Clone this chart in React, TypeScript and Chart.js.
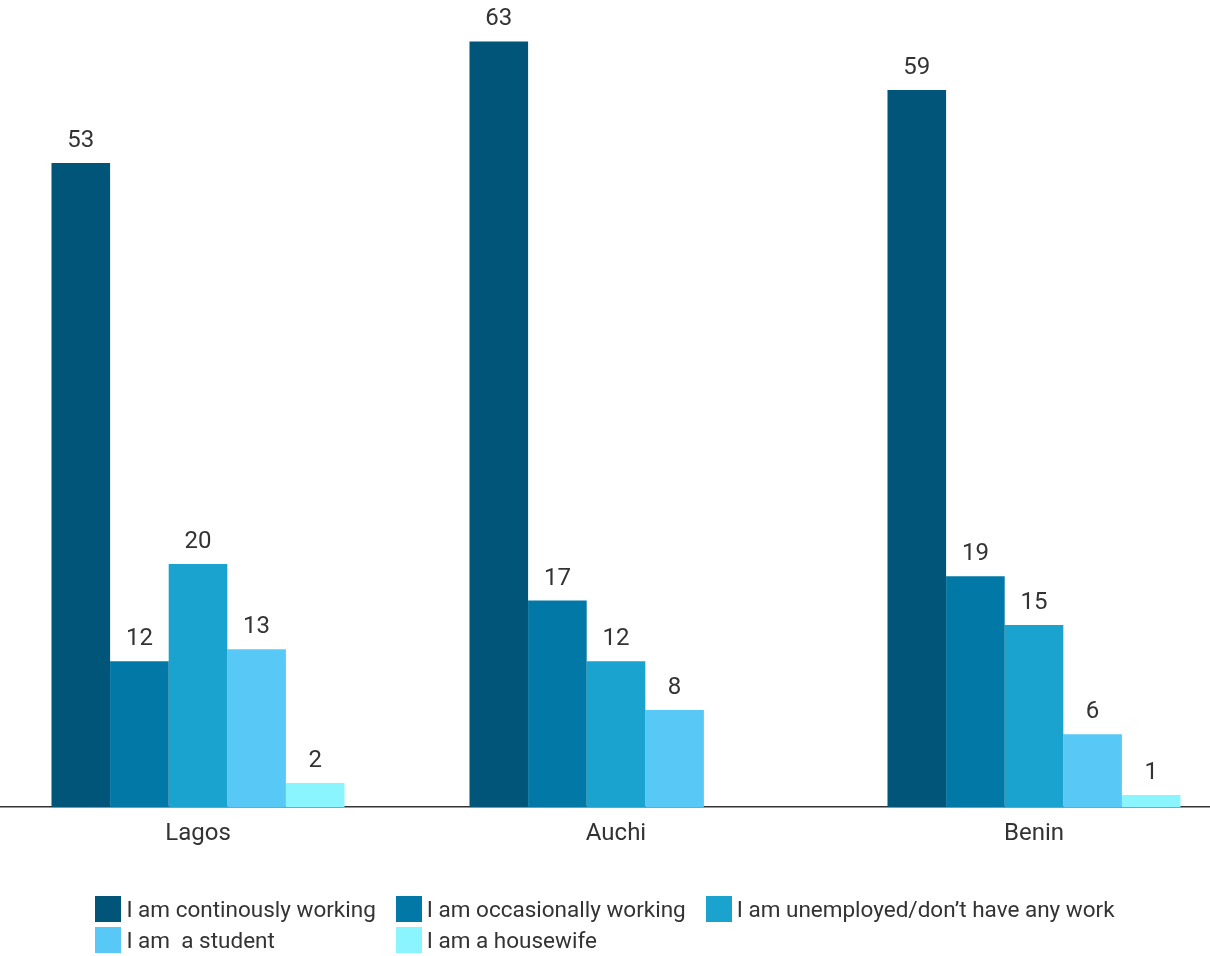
import React, { useEffect, useRef } from "react";
import { Chart, registerables } from "chart.js";

Chart.register(...registerables);

const categories = ["Lagos", "Auchi", "Benin"];
const seriesNames = [
  "I am continously working",
  "I am occasionally working",
  "I am unemployed/don’t have any work",
  "I am  a student",
  "I am a housewife",
];
const continuouslyWorking = [53, 63, 59];
const occasionallyWorking = [12, 17, 19];
const unemployed = [20, 12, 15];
const student = [13, 8, 6];
const housewife: (number | null)[] = [2, null, 1];
const seriesColors = ["#015579", "#0178A5", "#1BA3CF", "#58C9F6", "#8AF4FF"];
const seriesValues = [continuouslyWorking, occasionallyWorking, unemployed, student, housewife];

const FONT = "Roboto, 'Noto Sans', sans-serif";
const TEXT = "#333333";

const valueLabels = {
  id: "valueLabels",
  afterDatasetsDraw(chart: any) {
    const ctx = chart.ctx;
    ctx.save();
    ctx.font = `24px ${FONT}`;
    ctx.fillStyle = TEXT;
    ctx.textAlign = "center";
    ctx.textBaseline = "alphabetic";
    chart.data.datasets.forEach((ds: any, i: number) => {
      const meta = chart.getDatasetMeta(i);
      meta.data.forEach((bar: any, j: number) => {
        const v = ds.data[j];
        if (v === null || v === undefined) return;
        ctx.fillText(String(v), bar.x, bar.y - 16);
      });
    });
    ctx.restore();
  },
};

export default function App() {
  const ref = useRef<HTMLCanvasElement>(null);
  useEffect(() => {
    if (!ref.current) return;
    const chart = new Chart(ref.current, {
      type: "bar",
      data: {
        labels: categories,
        datasets: seriesNames.map((name, i) => ({
          label: name,
          data: seriesValues[i],
          backgroundColor: seriesColors[i],
          borderWidth: 0,
          barPercentage: 1,
          categoryPercentage: 0.701,
        })),
      },
      options: {
        responsive: false,
        animation: false,
        devicePixelRatio: 1,
        layout: { padding: { top: 5, bottom: 96, left: 0, right: 0 } },
        plugins: { legend: { display: false }, tooltip: { enabled: false } },
        scales: {
          x: {
            grid: { display: false, drawTicks: false },
            border: { display: true, color: "#333333", width: 1.5 },
            ticks: { font: { family: FONT, size: 24 }, color: TEXT, padding: 12 },
          },
          y: { display: false, min: 0, max: 66 },
        },
      },
      plugins: [valueLabels],
    });
    return () => chart.destroy();
  }, []);

  return (
    <div
      style={{
        position: "absolute",
        left: 0,
        top: 0,
        width: 1210,
        height: 956,
        overflow: "hidden",
        background: "#ffffff",
      }}
    >
      <canvas
        ref={ref}
        width={1254}
        height={956}
        style={{ position: "absolute", left: -11, top: 0, width: 1254, height: 956 }}
      />
      <div
        style={{
          position: "absolute",
          left: 0,
          top: 896,
          width: 1210,
          display: "flex",
          justifyContent: "center",
        }}
      >
        <div
          style={{
            display: "grid",
            gridTemplateColumns: "auto auto auto",
            columnGap: 20,
            rowGap: 5,
            fontFamily: FONT,
            fontSize: 22.5,
            color: TEXT,
          }}
        >
          {seriesNames.map((name, i) => (
            <div key={i} style={{ display: "flex", alignItems: "center", height: 26 }}>
              <span
                style={{
                  display: "inline-block",
                  width: 26,
                  height: 26,
                  background: seriesColors[i],
                  marginRight: 5,
                  flexShrink: 0,
                }}
              />
              <span style={{ whiteSpace: "pre" }}>{name}</span>
            </div>
          ))}
        </div>
      </div>
    </div>
  );
}
